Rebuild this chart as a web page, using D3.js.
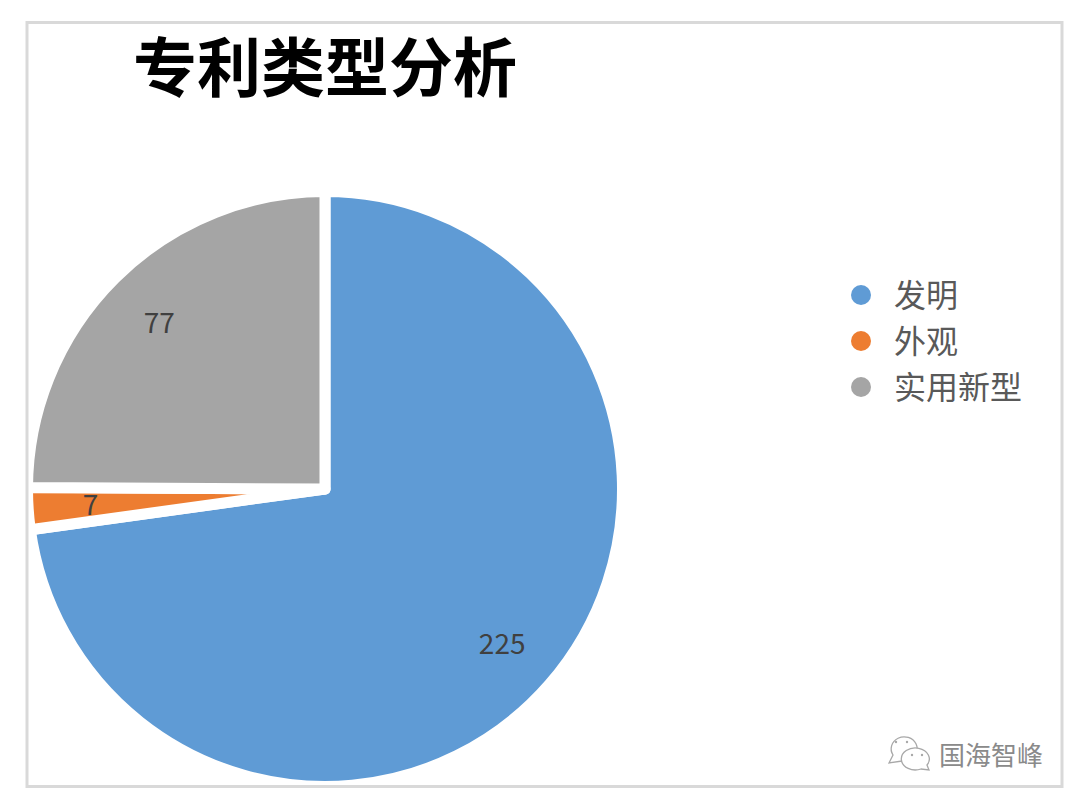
<!DOCTYPE html>
<html>
<head>
<meta charset="utf-8">
<script src="https://cdn.jsdelivr.net/npm/d3@7"></script>
<style>
html, body { margin: 0; padding: 0; background: #fff; }
svg { display: block; }
text { font-family: "Noto Sans CJK SC", "Noto Sans", sans-serif; }
</style>
</head>
<body>
<div id="chart"></div>
<script>
const titleText = '专利类型分析'
const categories = ['发明', '外观', '实用新型']
const values = [225, 7, 77]
const watermark = '国海智峰'

const width = 1080
const height = 802
const sliceGap = 11
// the white stroke eats half its width, so the arc is drawn that much bigger
const radius = 292 + sliceGap / 2

const color = d3.scaleOrdinal()
.domain(categories)
.range(['#5f9bd5', '#ed7d31', '#a5a5a5'])

const svg = d3.select('#chart')
.append('svg')
.attr('width', width)
.attr('height', height)

svg.append('text')
.attr('x', 325)
.attr('y', 91)
.attr('text-anchor', 'middle')
.attr('font-size', 64)
.attr('font-weight', 700)
.attr('fill', '#000')
.text(titleText)

const pie = d3.pie().sort(null)
const arc = d3.arc().innerRadius(0).outerRadius(radius)
const labelArc = d3.arc().innerRadius(235).outerRadius(235)

const slices = pie(values)

const g = svg.append('g')
.attr('transform', 'translate(325,489)')

g.selectAll('path')
.data(slices)
.enter()
.append('path')
.attr('d', arc)
.attr('fill', (d, i) => color(categories[i]))
.attr('stroke', '#fff')
.attr('stroke-width', sliceGap)
.attr('stroke-linejoin', 'round')

g.selectAll('text')
.data(slices)
.enter()
.append('text')
.attr('transform', d => 'translate(' + labelArc.centroid(d) + ')')
.attr('text-anchor', 'middle')
.attr('dy', '0.39em')
.attr('font-size', 28)
.attr('fill', '#404040')
.text(d => d.data)

// outer frame goes over the pie's white stroke
svg.append('rect')
.attr('x', 27)
.attr('y', 22.5)
.attr('width', 1035)
.attr('height', 764)
.attr('fill', 'none')
.attr('stroke', '#d9d9d9')
.attr('stroke-width', 3)

// legend
const legendY = d3.scalePoint()
.domain(categories)
.range([295, 387])

const legend = svg.selectAll('.legend')
.data(categories)
.enter()
.append('g')
.attr('class', 'legend')
.attr('transform', d => 'translate(861,' + legendY(d) + ')')

legend.append('circle')
.attr('r', 10)
.attr('fill', d => color(d))

legend.append('text')
.attr('x', 33)
.attr('dy', '0.39em')
.attr('font-size', 32)
.attr('fill', '#595959')
.text(d => d)

// watermark, chat bubbles then name
const mark = svg.append('g')
.attr('fill', '#fff')
.attr('stroke', '#a8a8a8')
.attr('stroke-width', 1.3)

mark.append('path')
.attr('d', 'M889 763 L893 755 A13 12 0 1 1 909 760 Z')
mark.append('path')
.attr('d', 'M929 770 L927 765 A14 11 0 1 0 921 769 Z')

mark.selectAll('circle')
.data([[896, 742], [907, 742], [912, 755], [922, 755]])
.enter()
.append('circle')
.attr('cx', d => d[0])
.attr('cy', d => d[1])
.attr('r', 1.2)
.attr('fill', '#a8a8a8')
.attr('stroke', 'none')

svg.append('text')
.attr('x', 939)
.attr('y', 765)
.attr('font-size', 26)
.attr('fill', '#8a8a8a')
.text(watermark)
</script>
</body>
</html>
